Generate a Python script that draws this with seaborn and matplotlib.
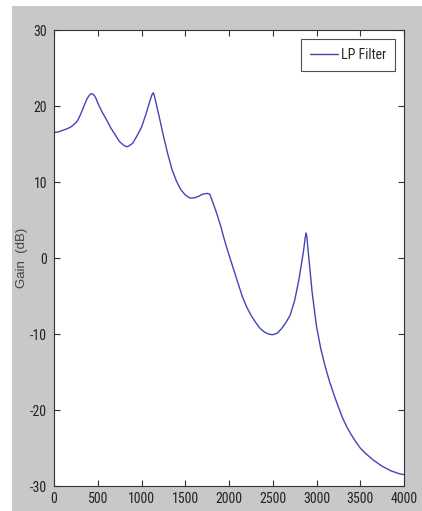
import pandas as pd
import seaborn as sns
import matplotlib.pyplot as plt
from matplotlib import font_manager
from matplotlib.patches import Rectangle

# values
freq = [0, 50, 100, 150, 200, 250, 275, 300, 325, 350, 375, 400, 420, 440, 460,
        480, 500, 550, 600, 650, 700, 750, 800, 830, 850, 900, 950, 1000, 1050,
        1100, 1120, 1135, 1150, 1200, 1250, 1300, 1350, 1400, 1450, 1500, 1550,
        1600, 1650, 1700, 1750, 1780, 1800, 1850, 1900, 1950, 2000, 2050, 2100,
        2150, 2200, 2250, 2300, 2350, 2400, 2450, 2500, 2550, 2600, 2650, 2700,
        2750, 2800, 2850, 2870, 2880, 2890, 2900, 2950, 3000, 3050, 3100, 3150,
        3200, 3250, 3300, 3350, 3400, 3450, 3500, 3550, 3600, 3650, 3700, 3750,
        3800, 3850, 3900, 3950, 4000]
gain = [16.5, 16.6, 16.8, 17.0, 17.3, 17.8, 18.2, 18.8, 19.5, 20.2, 20.9, 21.35,
        21.6, 21.6, 21.4, 21.0, 20.4, 19.2, 18.2, 17.1, 16.2, 15.3, 14.8, 14.65,
        14.7, 15.1, 16.1, 17.2, 18.9, 20.8, 21.5, 21.75, 21.2, 18.7, 16.1, 13.7,
        11.6, 10.1, 9.0, 8.3, 7.9, 7.9, 8.1, 8.4, 8.5, 8.4, 7.8, 6.2, 4.4, 2.3,
        0.4, -1.4, -3.2, -5.0, -6.4, -7.5, -8.4, -9.2, -9.7, -10.0, -10.1, -9.9,
        -9.3, -8.5, -7.5, -5.6, -2.8, 0.8, 2.6, 3.3, 2.8, 1.5, -4.5, -9.0, -12.0,
        -14.3, -16.3, -18.0, -19.6, -21.1, -22.3, -23.3, -24.2, -25.0, -25.6,
        -26.1, -26.6, -27.0, -27.4, -27.7, -28.0, -28.2, -28.4, -28.5]

xticks = [0, 500, 1000, 1500, 2000, 2500, 3000, 3500, 4000]
yticks = [-30, -20, -10, 0, 10, 20, 30]

df = pd.DataFrame({'Frequency': freq, 'Gain': gain})

sns.set_style("ticks")
plt.rcParams['font.family'] = ['Liberation Sans', 'DejaVu Sans']
plt.rcParams['xtick.direction'] = 'in'
plt.rcParams['ytick.direction'] = 'in'

# the reference text is narrow, so use a narrow face if one is around
fonts = {(f.name, f.stretch) for f in font_manager.fontManager.ttflist}
names = {f[0] for f in fonts}
if 'Liberation Sans Narrow' in names:
    tick_font = dict(family='Liberation Sans Narrow', size=10.5)
elif 'Roboto Condensed' in names:
    tick_font = dict(family='Roboto Condensed', size=10)
elif ('DejaVu Sans', 'condensed') in fonts:
    tick_font = dict(family='DejaVu Sans', stretch='condensed', size=8.5)
else:
    tick_font = dict(family='Liberation Sans', size=9)

fig = plt.figure(figsize=(4.22, 5.11), dpi=100, facecolor='white')
# matlab style grey panel behind the axes
fig.patches.append(Rectangle((12 / 422, 0), 1, 1 - 6 / 511, transform=fig.transFigure,
                             facecolor='#c8c8c8', edgecolor='none', zorder=-1))
ax = fig.add_axes([54 / 422, 25 / 511, 350 / 422, 456 / 511])
ax.set_facecolor('white')

sns.lineplot(data=df, x='Frequency', y='Gain', ax=ax, color='#4444b8',
             linewidth=1.0, label='LP Filter')

ax.set_xlim(0, 4000)
ax.set_ylim(-30, 30)
ax.set_xticks(xticks)
ax.set_yticks(yticks)
ax.set_xticklabels([str(t) for t in xticks], **tick_font)
ax.set_yticklabels([str(t) for t in yticks], **tick_font)
ax.tick_params(axis='both', which='both', top=True, right=True, length=4,
               width=0.8, color='#333333', labelcolor='#222222')
ax.tick_params(axis='x', pad=4)
ax.tick_params(axis='y', pad=5)
for s in ax.spines.values():
    s.set_visible(True)
    s.set_color('#333333')
    s.set_linewidth(0.8)
ax.set_xlabel('')
ax.set_ylabel('Gain  (dB)', fontsize=9.5, family='Liberation Sans', color='#444444')
ax.yaxis.set_label_coords(-26 / 350, 0.5)

leg = ax.legend(loc='upper right', prop=tick_font, frameon=True, fancybox=False,
                borderpad=0.65, handlelength=2.0, handletextpad=0.2,
                borderaxespad=0, bbox_to_anchor=(1 - 9 / 350, 1 - 9 / 456))
leg.get_frame().set_edgecolor('#222222')
leg.get_frame().set_linewidth(0.8)

plt.savefig('out.png', dpi=100, facecolor=fig.get_facecolor())
